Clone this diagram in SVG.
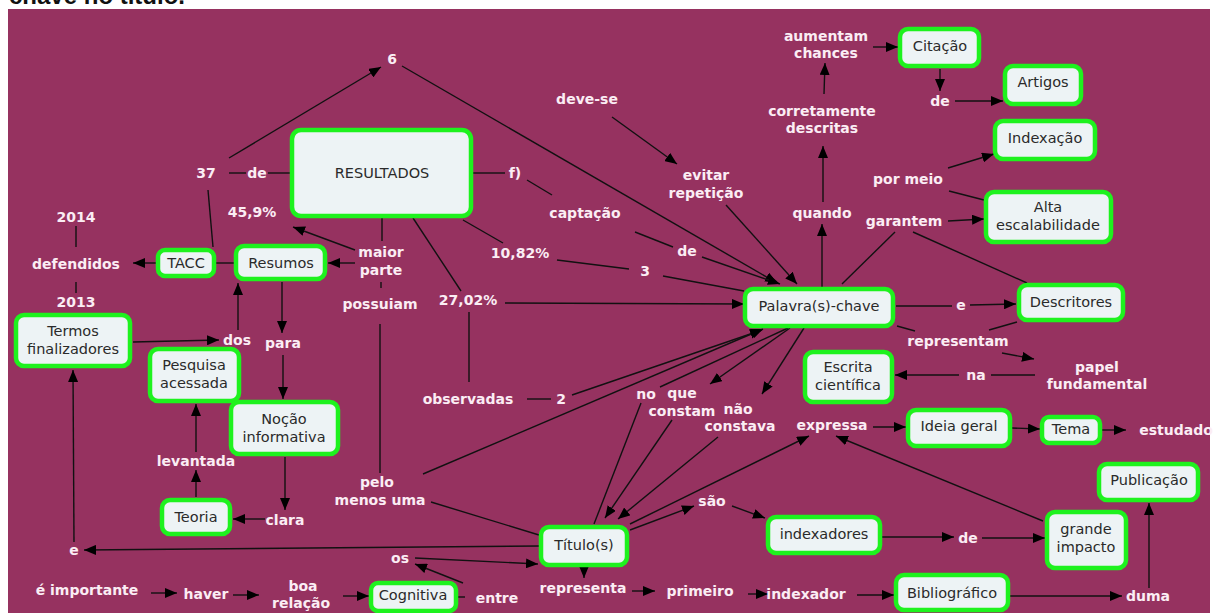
<svg xmlns="http://www.w3.org/2000/svg" width="1214" height="613" viewBox="0 0 1214 613">
<defs>
<marker id="ah" viewBox="0 0 12 10" refX="12" refY="5" markerWidth="12" markerHeight="10" markerUnits="userSpaceOnUse" orient="auto">
<path d="M0,0 L12,5 L0,10 Z" fill="#000"/>
</marker>
<style>
.n rect{fill:#EDF3F5;stroke:#1EF21E;stroke-width:4.5}
.n text{font-family:"DejaVu Sans",Verdana,sans-serif;font-size:14.5px;fill:#2a2a2a;text-anchor:middle}
.l{font-family:"DejaVu Sans",Verdana,sans-serif;font-weight:bold;font-size:14px;fill:#FBEDF4;text-anchor:middle}
.c line{stroke:#111;stroke-width:1.4;fill:none}
.c .a{marker-end:url(#ah)}
</style>
</defs>
<rect x="0" y="0" width="1214" height="613" fill="#ffffff"/>
<text x="9" y="4" font-family="Liberation Sans, Arial, sans-serif" font-weight="bold" font-size="24" fill="#111">chave no título.</text>
<rect x="8" y="9" width="1202" height="604" fill="#963260"/>

<g id="connectors" class="c">
<line class="a" x1="229" y1="158" x2="381" y2="67"/>
<line class="a" x1="402" y1="66" x2="777" y2="283"/>
<line x1="229" y1="173" x2="246" y2="173"/>
<line x1="268" y1="173" x2="290" y2="173"/>
<line x1="208" y1="190" x2="213" y2="247"/>
<line x1="473" y1="173" x2="505" y2="173"/>
<line x1="527" y1="180" x2="552" y2="195"/>
<line x1="635" y1="232" x2="673" y2="247"/>
<line class="a" x1="702" y1="257" x2="780" y2="284"/>
<line class="a" x1="612" y1="117" x2="677" y2="164"/>
<line class="a" x1="726" y1="205" x2="797" y2="284"/>
<line class="a" x1="355" y1="250" x2="293" y2="227"/>
<line class="a" x1="355" y1="263" x2="328" y2="263"/>
<line x1="382" y1="218" x2="382" y2="241"/>
<line x1="381" y1="282" x2="381" y2="288"/>
<line x1="380" y1="324" x2="380" y2="473"/>
<line class="a" x1="423" y1="474" x2="763" y2="329"/>
<line x1="431" y1="502" x2="539" y2="535"/>
<line x1="463" y1="220" x2="503" y2="243"/>
<line x1="557" y1="260" x2="629" y2="269"/>
<line x1="663" y1="276" x2="744" y2="291"/>
<line x1="413" y1="218" x2="461" y2="291"/>
<line class="a" x1="505" y1="303" x2="744" y2="304"/>
<line x1="469" y1="312" x2="469" y2="382"/>
<line x1="527" y1="399" x2="551" y2="399"/>
<line class="a" x1="572" y1="395" x2="762" y2="330"/>
<line x1="660" y1="387" x2="788" y2="328"/>
<line class="a" x1="790" y1="328" x2="710" y2="384"/>
<line class="a" x1="804" y1="328" x2="762" y2="394"/>
<line x1="641" y1="403" x2="594" y2="524"/>
<line class="a" x1="672" y1="420" x2="605" y2="518"/>
<line class="a" x1="718" y1="437" x2="618" y2="519"/>
<line class="a" x1="539" y1="546" x2="84" y2="550"/>
<line class="a" x1="74" y1="542" x2="73" y2="370"/>
<line class="a" x1="133" y1="342" x2="219" y2="340"/>
<line class="a" x1="238" y1="330" x2="238" y2="283"/>
<line class="a" x1="282" y1="282" x2="282" y2="333"/>
<line class="a" x1="283" y1="355" x2="283" y2="399"/>
<line class="a" x1="285" y1="457" x2="285" y2="510"/>
<line class="a" x1="265" y1="519" x2="233" y2="519"/>
<line class="a" x1="196" y1="497" x2="196" y2="470"/>
<line class="a" x1="196" y1="452" x2="196" y2="404"/>
<line x1="216" y1="263" x2="236" y2="263"/>
<line class="a" x1="156" y1="263" x2="133" y2="263"/>
<line x1="76" y1="226" x2="76" y2="247"/>
<line x1="76" y1="282" x2="76" y2="293"/>
<line class="a" x1="151" y1="593" x2="177" y2="593"/>
<line class="a" x1="233" y1="595" x2="259" y2="595"/>
<line class="a" x1="343" y1="596" x2="369" y2="596"/>
<line x1="458" y1="597" x2="465" y2="597"/>
<line class="a" x1="463" y1="583" x2="415" y2="564"/>
<line class="a" x1="415" y1="558" x2="538" y2="564"/>
<line class="a" x1="584" y1="567" x2="584" y2="578"/>
<line class="a" x1="632" y1="591" x2="655" y2="591"/>
<line class="a" x1="748" y1="594" x2="768" y2="594"/>
<line class="a" x1="857" y1="595" x2="894" y2="595"/>
<line class="a" x1="1010" y1="596" x2="1122" y2="596"/>
<line class="a" x1="1149" y1="588" x2="1149" y2="503"/>
<line class="a" x1="630" y1="530" x2="694" y2="506"/>
<line class="a" x1="732" y1="506" x2="765" y2="518"/>
<line class="a" x1="882" y1="537" x2="954" y2="537"/>
<line class="a" x1="982" y1="538" x2="1045" y2="538"/>
<line class="a" x1="1043" y1="521" x2="836" y2="436"/>
<line class="a" x1="630" y1="524" x2="809" y2="436"/>
<line class="a" x1="873" y1="427" x2="906" y2="427"/>
<line class="a" x1="1012" y1="428" x2="1040" y2="429"/>
<line class="a" x1="1102" y1="430" x2="1126" y2="430"/>
<line class="a" x1="822" y1="287" x2="822" y2="224"/>
<line class="a" x1="823" y1="202" x2="823" y2="146"/>
<line class="a" x1="824" y1="94" x2="825" y2="63"/>
<line class="a" x1="873" y1="47" x2="898" y2="47"/>
<line class="a" x1="940" y1="69" x2="940" y2="91"/>
<line class="a" x1="955" y1="101" x2="1003" y2="101"/>
<line x1="842" y1="284" x2="895" y2="232"/>
<line class="a" x1="948" y1="221" x2="984" y2="219"/>
<line x1="913" y1="232" x2="1027" y2="283"/>
<line class="a" x1="948" y1="168" x2="994" y2="154"/>
<line x1="949" y1="191" x2="984" y2="200"/>
<line x1="896" y1="306" x2="952" y2="306"/>
<line class="a" x1="970" y1="305" x2="1016" y2="304"/>
<line x1="897" y1="326" x2="915" y2="331"/>
<line x1="1017" y1="322" x2="989" y2="330"/>
<line class="a" x1="1002" y1="353" x2="1034" y2="359"/>
<line x1="1035" y1="375" x2="991" y2="375"/>
<line class="a" x1="959" y1="375" x2="895" y2="375"/>
</g>

<g id="labels">
<text class="l" x="392" y="64">6</text>
<text class="l" x="206" y="178">37</text>
<text class="l" x="257" y="178">de</text>
<text class="l" x="252" y="217">45,9%</text>
<text class="l" x="515" y="178">f)</text>
<text class="l" x="585" y="218">captação</text>
<text class="l" x="587" y="104">deve-se</text>
<text class="l" x="706" y="180">evitar</text>
<text class="l" x="706" y="198">repetição</text>
<text class="l" x="520" y="258">10,82%</text>
<text class="l" x="687" y="256">de</text>
<text class="l" x="645" y="276">3</text>
<text class="l" x="468" y="305">27,02%</text>
<text class="l" x="381" y="257">maior</text>
<text class="l" x="381" y="275">parte</text>
<text class="l" x="380" y="309">possuiam</text>
<text class="l" x="468" y="404">observadas</text>
<text class="l" x="561" y="404">2</text>
<text class="l" x="377" y="487">pelo</text>
<text class="l" x="380" y="505">menos uma</text>
<text class="l" x="76" y="222">2014</text>
<text class="l" x="76" y="269">defendidos</text>
<text class="l" x="76" y="307">2013</text>
<text class="l" x="237" y="345">dos</text>
<text class="l" x="283" y="348">para</text>
<text class="l" x="196" y="466">levantada</text>
<text class="l" x="285" y="525">clara</text>
<text class="l" x="74" y="555">e</text>
<text class="l" x="87" y="595">é importante</text>
<text class="l" x="206" y="599">haver</text>
<text class="l" x="303" y="591">boa</text>
<text class="l" x="301" y="608">relação</text>
<text class="l" x="400" y="563">os</text>
<text class="l" x="497" y="603">entre</text>
<text class="l" x="583" y="593">representa</text>
<text class="l" x="700" y="596">primeiro</text>
<text class="l" x="806" y="599">indexador</text>
<text class="l" x="1148" y="601">duma</text>
<text class="l" x="968" y="543">de</text>
<text class="l" x="712" y="506">são</text>
<text class="l" x="832" y="430">expressa</text>
<text class="l" x="1176" y="435">estudado</text>
<text class="l" x="646" y="399">no</text>
<text class="l" x="682" y="398">que</text>
<text class="l" x="682" y="416">constam</text>
<text class="l" x="738" y="414">não</text>
<text class="l" x="740" y="431">constava</text>
<text class="l" x="822" y="218">quando</text>
<text class="l" x="904" y="226">garantem</text>
<text class="l" x="961" y="310">e</text>
<text class="l" x="958" y="346">representam</text>
<text class="l" x="1097" y="372">papel</text>
<text class="l" x="1097" y="389">fundamental</text>
<text class="l" x="976" y="380">na</text>
<text class="l" x="908" y="184">por meio</text>
<text class="l" x="822" y="116">corretamente</text>
<text class="l" x="822" y="133">descritas</text>
<text class="l" x="826" y="41">aumentam</text>
<text class="l" x="826" y="58">chances</text>
<text class="l" x="940" y="106">de</text>
</g>

<g id="n-resultados" class="n"><rect x="292" y="130" width="179" height="86" rx="9"/><text x="382" y="178">RESULTADOS</text></g>
<g id="n-resumos" class="n"><rect x="236" y="246" width="89" height="33" rx="8"/><text x="281" y="268">Resumos</text></g>
<g id="n-tacc" class="n"><rect x="158" y="250" width="56" height="26" rx="7"/><text x="186" y="268">TACC</text></g>
<g id="n-termos" class="n"><rect x="16" y="315" width="114" height="51" rx="8"/><text x="73" y="336">Termos</text><text x="73" y="354">finalizadores</text></g>
<g id="n-pesquisa" class="n"><rect x="150" y="349" width="89" height="52" rx="8"/><text x="194" y="370">Pesquisa</text><text x="194" y="388">acessada</text></g>
<g id="n-nocao" class="n"><rect x="231" y="402" width="107" height="52" rx="8"/><text x="284" y="424">Noção</text><text x="284" y="442">informativa</text></g>
<g id="n-teoria" class="n"><rect x="162" y="500" width="68" height="34" rx="8"/><text x="196" y="522">Teoria</text></g>
<g id="n-cognitiva" class="n"><rect x="371" y="583" width="85" height="28" rx="7"/><text x="413" y="600">Cognitiva</text></g>
<g id="n-titulo" class="n"><rect x="541" y="527" width="86" height="38" rx="8"/><text x="584" y="550">Título(s)</text></g>
<g id="n-palavra" class="n"><rect x="745" y="289" width="148" height="37" rx="8"/><text x="819" y="311">Palavra(s)-chave</text></g>
<g id="n-descritores" class="n"><rect x="1019" y="285" width="104" height="35" rx="8"/><text x="1071" y="307">Descritores</text></g>
<g id="n-alta" class="n"><rect x="986" y="192" width="125" height="50" rx="8"/><text x="1048" y="212">Alta</text><text x="1048" y="230">escalabilidade</text></g>
<g id="n-indexacao" class="n"><rect x="995" y="121" width="100" height="38" rx="8"/><text x="1045" y="143">Indexação</text></g>
<g id="n-artigos" class="n"><rect x="1005" y="66" width="76" height="38" rx="8"/><text x="1043" y="87">Artigos</text></g>
<g id="n-citacao" class="n"><rect x="900" y="29" width="79" height="37" rx="8"/><text x="940" y="51">Citação</text></g>
<g id="n-escrita" class="n"><rect x="805" y="352" width="87" height="50" rx="8"/><text x="848" y="372">Escrita</text><text x="848" y="390">científica</text></g>
<g id="n-ideia" class="n"><rect x="908" y="410" width="102" height="36" rx="8"/><text x="959" y="431">Ideia geral</text></g>
<g id="n-tema" class="n"><rect x="1042" y="417" width="58" height="26" rx="7"/><text x="1071" y="434">Tema</text></g>
<g id="n-publicacao" class="n"><rect x="1099" y="464" width="99" height="36" rx="8"/><text x="1149" y="485">Publicação</text></g>
<g id="n-grande" class="n"><rect x="1047" y="512" width="79" height="56" rx="8"/><text x="1086" y="534">grande</text><text x="1086" y="552">impacto</text></g>
<g id="n-indexadores" class="n"><rect x="768" y="517" width="112" height="36" rx="8"/><text x="824" y="539">indexadores</text></g>
<g id="n-bibliografico" class="n"><rect x="896" y="575" width="112" height="35" rx="8"/><text x="952" y="598">Bibliográfico</text></g>
</svg>
